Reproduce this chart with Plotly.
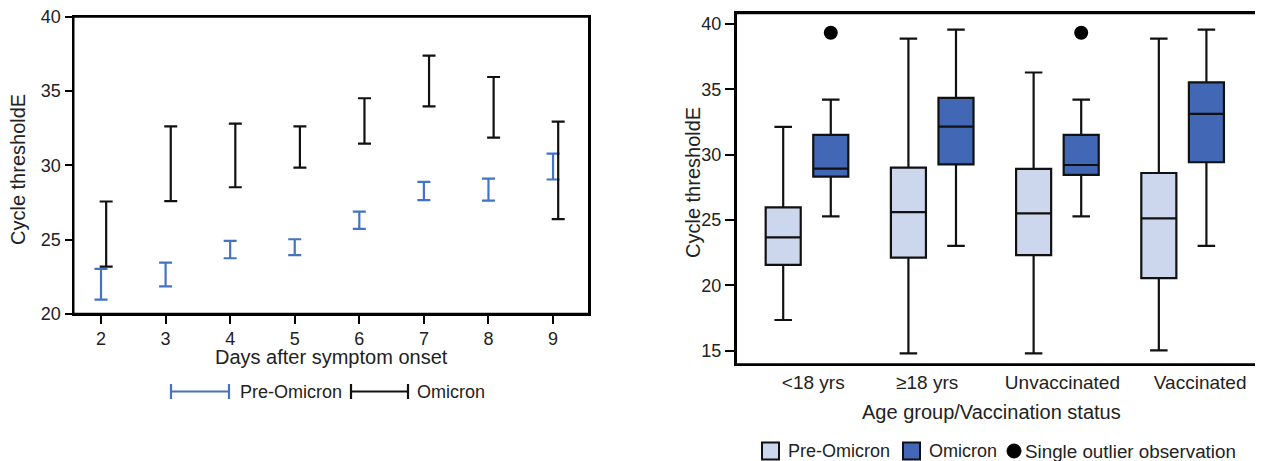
import plotly.graph_objects as go

# ---------------- data ----------------
days = [2, 3, 4, 5, 6, 7, 8, 9]
pre_low = [20.96, 21.84, 23.74, 23.95, 25.72, 27.65, 27.62, 29.04]
pre_high = [23.03, 23.45, 24.91, 25.02, 26.88, 28.88, 29.10, 30.78]
omi_low = [23.18, 27.58, 28.52, 29.84, 31.46, 33.97, 31.86, 26.37]
omi_high = [27.56, 32.62, 32.80, 32.62, 34.51, 37.38, 35.94, 32.94]

groups = ["<18 yrs", "≥18 yrs", "Unvaccinated", "Vaccinated"]
pre_lowerfence = [17.35, 14.80, 14.80, 15.03]
pre_q1 = [21.57, 22.13, 22.31, 20.55]
pre_median = [23.67, 25.61, 25.51, 25.12]
pre_q3 = [25.97, 29.01, 28.91, 28.60]
pre_upperfence = [32.13, 38.88, 36.29, 38.88]

omi_lowerfence = [25.28, 23.03, 25.28, 23.03]
omi_q1 = [28.32, 29.26, 28.45, 29.42]
omi_median = [28.93, 32.15, 29.21, 33.12]
omi_q3 = [31.51, 34.35, 31.51, 35.53]
omi_upperfence = [34.22, 39.57, 34.22, 39.57]

outlier_groups = ["<18 yrs", "Unvaccinated"]
outlier_values = [39.33, 39.33]

# ---------------- styling ----------------
# the page body has an 8px margin, so the figure is sized to end at the window edge
OX, OY = 8, 8
W, H = 1263 - OX, 461 - OY
FONT = "Arial, Liberation Sans, sans-serif"
TXT = "#222222"
BLUE_LINE = "#4472C4"
OMI_FILL = "#4267B5"
PRE_FILL = "#CCD7ED"
LABEL_NUDGE = [0.05, -0.04, 0.04, 0.14]   # tick-label placement tweak (style)


def px(x):
    return (x - OX) / W


def py(y):
    return 1 - (y - OY) / H


fig = go.Figure()

# ---- left panel: error bars ----
pre_mid = [(a + b) / 2 for a, b in zip(pre_low, pre_high)]
omi_mid = [(a + b) / 2 for a, b in zip(omi_low, omi_high)]
fig.add_trace(go.Scatter(
    x=days, y=pre_mid, mode="markers",
    marker=dict(size=1, color="rgba(0,0,0,0)"),
    error_y=dict(type="data", symmetric=False,
                 array=[h - m for h, m in zip(pre_high, pre_mid)],
                 arrayminus=[m - l for m, l in zip(pre_mid, pre_low)],
                 color=BLUE_LINE, thickness=2.2, width=6.5),
    xaxis="x", yaxis="y", showlegend=False, name="Pre-Omicron"))
fig.add_trace(go.Scatter(
    x=[d + 0.08 for d in days], y=omi_mid, mode="markers",
    marker=dict(size=1, color="rgba(0,0,0,0)"),
    error_y=dict(type="data", symmetric=False,
                 array=[h - m for h, m in zip(omi_high, omi_mid)],
                 arrayminus=[m - l for m, l in zip(omi_mid, omi_low)],
                 color="#111111", thickness=2.2, width=6.5),
    xaxis="x", yaxis="y", showlegend=False, name="Omicron"))

# ---- right panel: boxes ----
idx = list(range(len(groups)))
off = 0.19
fig.add_trace(go.Box(
    x=[i - off for i in idx], q1=pre_q1, median=pre_median, q3=pre_q3,
    lowerfence=pre_lowerfence, upperfence=pre_upperfence,
    width=0.28, whiskerwidth=0.5, fillcolor=PRE_FILL,
    line=dict(color="#111111", width=2.2),
    xaxis="x2", yaxis="y2", showlegend=False, name="Pre-Omicron"))
fig.add_trace(go.Box(
    x=[i + off for i in idx], q1=omi_q1, median=omi_median, q3=omi_q3,
    lowerfence=omi_lowerfence, upperfence=omi_upperfence,
    width=0.28, whiskerwidth=0.5, fillcolor=OMI_FILL,
    line=dict(color="#111111", width=2.2),
    xaxis="x2", yaxis="y2", showlegend=False, name="Omicron"))
fig.add_trace(go.Scatter(
    x=[groups.index(g) + off for g in outlier_groups], y=outlier_values,
    mode="markers", marker=dict(size=14, color="#000000"),
    xaxis="x2", yaxis="y2", showlegend=False,
    name="Single outlier observation"))

axis_common = dict(showline=True, mirror=True, linecolor="#000000", linewidth=2,
                   showgrid=False, zeroline=False, ticks="outside",
                   tickcolor="#000000", tickwidth=2, automargin=False,
                   ticklabeloverflow="allow",
                   tickfont=dict(family=FONT, size=18, color=TXT))

fig.update_layout(
    template="none",
    width=W, height=H, margin=dict(l=0, r=0, t=0, b=0, autoexpand=False),
    paper_bgcolor="white", plot_bgcolor="white",
    font=dict(family=FONT, color=TXT),
    showlegend=False,
    xaxis=dict(domain=[px(73.5), px(589)], range=[1.574, 9.557],
               tickvals=days, ticklen=8, anchor="y", **axis_common),
    yaxis=dict(domain=[py(313.8), py(16.7)], range=[20, 40],
               tickvals=[20, 25, 30, 35, 40], ticklen=7, anchor="x", **axis_common),
    xaxis2=dict(domain=[px(736), px(1261.5)], range=[-0.567, 3.63],
                tickvals=[i + d for i, d in zip(idx, LABEL_NUDGE)], ticktext=groups,
                anchor="y2",
                **{**axis_common, "ticks": "",
                   "tickfont": dict(family=FONT, size=19, color=TXT)}),
    yaxis2=dict(domain=[py(364.3), py(13.3)], range=[13.96, 40.82],
                tickvals=[15, 20, 25, 30, 35, 40], ticklen=9, anchor="x2", **axis_common),
)

ann = []
shapes = []
# explicit plot frames
for xr, yr in (("x domain", "y domain"), ("x2 domain", "y2 domain")):
    shapes.append(dict(type="rect", xref=xr, yref=yr, x0=0, x1=1, y0=0, y1=1,
                       line=dict(color="#000000", width=2), layer="above"))

# axis titles
ann.append(dict(text="Cycle thresholdE", x=px(18), y=py(170), textangle=-90,
                font=dict(size=20)))
ann.append(dict(text="Days after symptom onset", x=px(331), y=py(357),
                font=dict(size=20)))
ann.append(dict(text="Cycle thresholdE", x=px(693), y=py(183), textangle=-90,
                font=dict(size=20)))
ann.append(dict(text="Age group/Vaccination status", x=px(991), y=py(412),
                font=dict(size=20)))


def pline(x0, x1, y0, y1, color):
    shapes.append(dict(type="line", xref="paper", yref="paper",
                       x0=px(x0), x1=px(x1), y0=py(y0), y1=py(y1),
                       line=dict(color=color, width=2.2)))


# left legend (error-bar symbols)
def errsym(x0, x1, y, color):
    pline(x0, x1, y, y, color)
    for xx in (x0, x1):
        pline(xx, xx, y - 7.5, y + 7.5, color)


errsym(171, 229, 391.5, BLUE_LINE)
errsym(351, 408, 391.5, "#111111")
ann.append(dict(text="Pre-Omicron", x=px(238), y=py(391.5), xanchor="left",
                font=dict(size=18)))
ann.append(dict(text="Omicron", x=px(415), y=py(391.5), xanchor="left",
                font=dict(size=18)))

# right legend
ly = 451
shapes.append(dict(type="rect", xref="paper", yref="paper",
                   x0=px(762), x1=px(779), y0=py(ly + 8.5), y1=py(ly - 8.5),
                   fillcolor=PRE_FILL, line=dict(color="#111111", width=2)))
ann.append(dict(text="Pre-Omicron", x=px(786), y=py(ly), xanchor="left", font=dict(size=18)))
shapes.append(dict(type="rect", xref="paper", yref="paper",
                   x0=px(903), x1=px(920), y0=py(ly + 8.5), y1=py(ly - 8.5),
                   fillcolor=OMI_FILL, line=dict(color="#111111", width=2)))
ann.append(dict(text="Omicron", x=px(927), y=py(ly), xanchor="left", font=dict(size=18)))
shapes.append(dict(type="circle", xref="paper", yref="paper",
                   x0=px(1007), x1=px(1021), y0=py(ly + 7), y1=py(ly - 7),
                   fillcolor="#000000", line=dict(color="#000000", width=1)))
ann.append(dict(text="Single outlier observation", x=px(1023), y=py(ly), xanchor="left",
                font=dict(size=18.8)))

for a in ann:
    a.setdefault("xanchor", "center")
    a.update(xref="paper", yref="paper", showarrow=False, yanchor="middle")
    a["font"] = dict(family=FONT, color=TXT, **a["font"])

fig.update_layout(annotations=ann, shapes=shapes)
fig.write_html("out.html")
